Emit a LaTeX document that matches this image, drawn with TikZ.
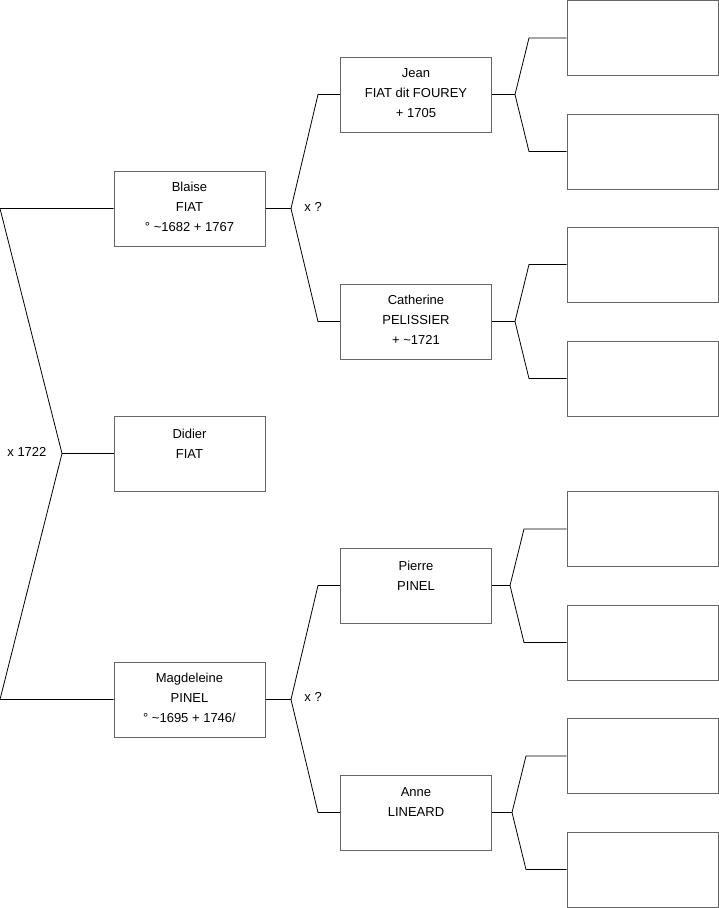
\documentclass[tikz,border=0pt]{standalone}
\usepackage{fontspec}
\setmainfont{Liberation Sans}
\usetikzlibrary{positioning}
\begin{document}
\begin{tikzpicture}[x=1pt,y=-1pt,line width=0.8pt,
  person/.style={draw=black!60,line width=1pt,minimum width=151pt,minimum height=75pt,inner sep=0pt,align=center,font=\fontsize{13}{20}\selectfont},
  blank/.style={draw=black!60,line width=1pt,minimum width=151pt,minimum height=75pt,inner sep=0pt},
  union/.style={font=\fontsize{13}{15}\selectfont,anchor=west,inner sep=0pt}]
\useasboundingbox (0,0) rectangle (719,908);
\node[person] (blaise) at (189.5,208.5) {Blaise\\FIAT\\° \textasciitilde1682 + 1767\vphantom{(}};
\node[person] (didier) at (189.5,453.5) {Didier\\FIAT\\\mbox{}};
\node[person] (magd) at (189.5,699.5) {Magdeleine\\PINEL\\° \textasciitilde1695 + 1746/\vphantom{(}};
\node[person] (jean) at (416,94.5) {Jean\\FIAT dit FOUREY\\+ 1705\vphantom{(}};
\node[person] (cath) at (416,321.5) {Catherine\\PELISSIER\\+ \textasciitilde1721\vphantom{(}};
\node[person] (pierre) at (416,585.5) {Pierre\\PINEL\\\mbox{}};
\node[person] (anne) at (416,812.5) {Anne\\LINEARD\\\mbox{}};
\node[blank] (jean_f) at (642.5,38) {};
\node[blank] (jean_m) at (642.5,151.5) {};
\node[blank] (cath_f) at (642.5,264.5) {};
\node[blank] (cath_m) at (642.5,378.5) {};
\node[blank] (pierre_f) at (642.5,529) {};
\node[blank] (pierre_m) at (642.5,642.5) {};
\node[blank] (anne_f) at (642.5,756) {};
\node[blank] (anne_m) at (642.5,869.5) {};
\node[union] (u_didier) at (7,452) {x 1722};
\node[union] (u_blaise) at (304,207) {x ?};
\node[union] (u_magd) at (304,697) {x ?};
\coordinate (k_didier) at (62,453.5);
\coordinate (k_blaise) at (291,208.5);
\coordinate (k_magd) at (291,699.5);
\coordinate (k_jean) at (515,94.5);
\coordinate (k_cath) at (515,321.5);
\coordinate (k_pierre) at (510,585.5);
\coordinate (k_anne) at (512,812.5);
\draw (blaise.west) -- (0,208.5) -- (k_didier) -- (0,699.5) -- (magd.west);
\draw (k_didier) -- (didier.west);
\draw (blaise.east) -- (k_blaise) -- (318,94.5) -- (jean.west);
\draw (k_blaise) -- (318,321.5) -- (cath.west);
\draw (magd.east) -- (k_magd) -- (318,585.5) -- (pierre.west);
\draw (k_magd) -- (318,812.5) -- (anne.west);
\draw (jean.east) -- (k_jean) -- (529,38) -- (jean_f.west);
\draw (k_jean) -- (529,151.5) -- (jean_m.west);
\draw (cath.east) -- (k_cath) -- (529,264.5) -- (cath_f.west);
\draw (k_cath) -- (529,378.5) -- (cath_m.west);
\draw (pierre.east) -- (k_pierre) -- (524,529) -- (pierre_f.west);
\draw (k_pierre) -- (524,642.5) -- (pierre_m.west);
\draw (anne.east) -- (k_anne) -- (526,756) -- (anne_f.west);
\draw (k_anne) -- (526,869.5) -- (anne_m.west);
\end{tikzpicture}
\end{document}
